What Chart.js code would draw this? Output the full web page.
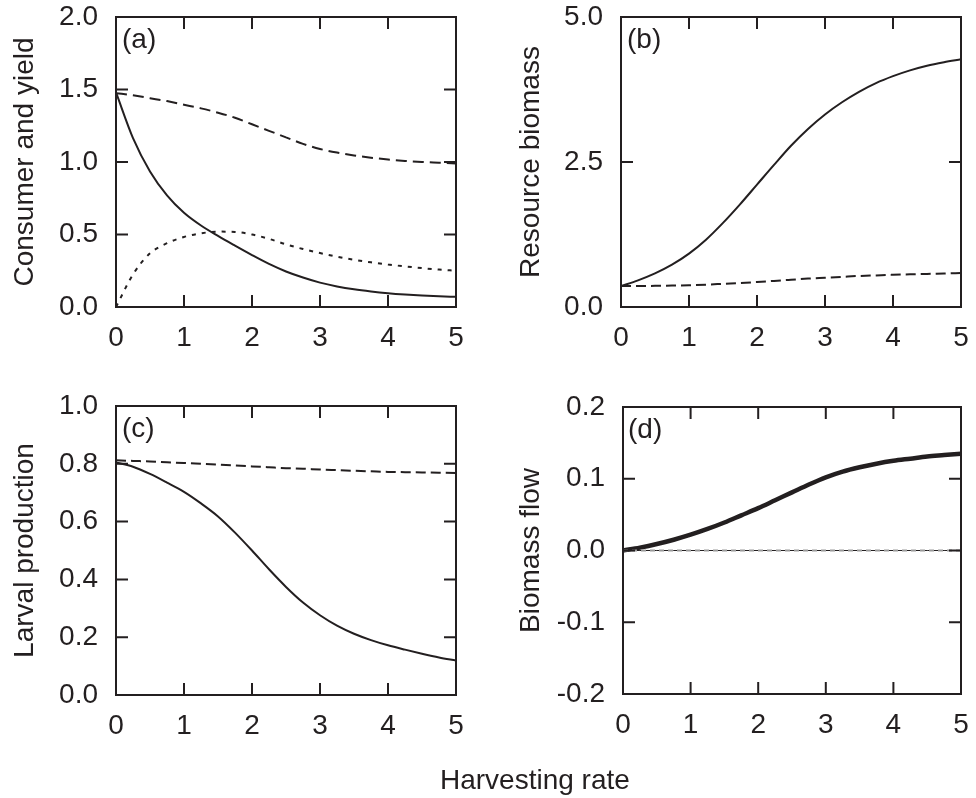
<!DOCTYPE html>
<html><head><meta charset="utf-8">
<script src="https://cdn.jsdelivr.net/npm/chart.js@4.4.1/dist/chart.umd.min.js"></script>
<style>
body{margin:0;background:#fff;width:976px;height:798px;position:relative;overflow:hidden;font-family:"Liberation Sans",Arial,sans-serif;color:#231f20}
canvas{position:absolute}
.lbl{position:absolute;font-size:28px;line-height:1;color:#231f20;white-space:nowrap}
</style></head><body>
<canvas id="pa" width="488" height="375" style="left:0;top:0"></canvas>
<canvas id="pb" width="488" height="375" style="left:488px;top:0"></canvas>
<canvas id="pc" width="488" height="390" style="left:0;top:380px"></canvas>
<canvas id="pd" width="488" height="390" style="left:488px;top:380px"></canvas>
<div class="lbl" style="left:122px;top:25px">(a)</div>
<div class="lbl" style="left:627px;top:25px">(b)</div>
<div class="lbl" style="left:122px;top:414px">(c)</div>
<div class="lbl" style="left:628px;top:415px">(d)</div>
<div class="lbl" style="left:440px;top:766px">Harvesting rate</div>
<script>
// ---- data ----
const harvestRate = [0,0.25,0.5,0.75,1,1.25,1.5,1.75,2,2.25,2.5,2.75,3,3.25,3.5,3.75,4,4.25,4.5,4.75,5];
const xTicks = [0,1,2,3,4,5];

// (a) Consumer and yield
const consumerSolidA = [1.48,1.165,0.935,0.77,0.65,0.562,0.49,0.423,0.358,0.297,0.245,0.203,0.168,0.142,0.122,0.107,0.095,0.086,0.079,0.074,0.07];
const consumerDashedA = [1.475,1.46,1.44,1.42,1.395,1.37,1.34,1.305,1.26,1.215,1.17,1.125,1.09,1.065,1.045,1.03,1.017,1.007,1.0,0.995,0.99];
const yieldDottedA = [0.0,0.225,0.37,0.44,0.483,0.508,0.52,0.518,0.5,0.47,0.432,0.4,0.372,0.347,0.326,0.308,0.293,0.28,0.268,0.258,0.25];
const yTicksA = [0,0.5,1,1.5,2];

// (b) Resource biomass
const resourceSolidB = [0.36,0.46,0.58,0.73,0.92,1.16,1.45,1.77,2.11,2.45,2.78,3.07,3.32,3.53,3.71,3.86,3.98,4.08,4.16,4.22,4.27];
const resourceDashedB = [0.36,0.362,0.365,0.37,0.375,0.385,0.4,0.415,0.43,0.45,0.47,0.49,0.505,0.52,0.535,0.545,0.555,0.563,0.57,0.578,0.585];
const yTicksB = [0,2.5,5];

// (c) Larval production
const larvalSolidC = [0.805,0.79,0.765,0.735,0.703,0.663,0.618,0.562,0.5,0.435,0.374,0.32,0.276,0.24,0.212,0.19,0.172,0.157,0.143,0.13,0.119];
const larvalDashedC = [0.812,0.81,0.808,0.805,0.803,0.8,0.797,0.794,0.791,0.788,0.785,0.783,0.78,0.778,0.776,0.774,0.772,0.771,0.77,0.769,0.768];
const yTicksC = [0,0.2,0.4,0.6,0.8,1];

// (d) Biomass flow
const flowSolidD = [0,0.004,0.009,0.015,0.022,0.03,0.039,0.049,0.059,0.07,0.081,0.092,0.102,0.11,0.116,0.121,0.125,0.128,0.131,0.133,0.135];
const flowZeroD = [0,0,0,0,0,0,0,0,0,0,0,0,0,0,0,0,0,0,0,0,0];
const yTicksD = [-0.2,-0.1,0,0.1,0.2];

// ---- drawing ----
const INK = '#231f20';
const FONT = {family:'"Liberation Sans", Arial, sans-serif', size:28};

const frame = {
  id:'frame',
  afterDatasetsDraw(chart){
    const {ctx, chartArea:a, scales:{x,y}} = chart;
    ctx.save();
    ctx.strokeStyle = INK; ctx.lineWidth = 2;
    ctx.strokeRect(a.left, a.top, a.right-a.left, a.bottom-a.top);
    const L = 12;
    ctx.beginPath();
    x.ticks.forEach(t=>{const p=x.getPixelForValue(t.value);
      ctx.moveTo(p,a.bottom); ctx.lineTo(p,a.bottom-L); ctx.moveTo(p,a.top); ctx.lineTo(p,a.top+L);});
    y.ticks.forEach(t=>{const p=y.getPixelForValue(t.value);
      ctx.moveTo(a.left,p); ctx.lineTo(a.left+L,p); ctx.moveTo(a.right,p); ctx.lineTo(a.right-L,p);});
    ctx.stroke(); ctx.restore();
  }
};

function pts(ys){ return ys.map((v,i)=>({x:harvestRate[i], y:v})); }
function ds(ys, o){ return Object.assign({data:pts(ys), borderColor:INK, borderWidth:2, pointRadius:0, fill:false, tension:0.4, cubicInterpolationMode:'monotone'}, o||{}); }

function panel(id, o){
  const cv = document.getElementById(id);
  const W = cv.width, H = cv.height;
  return new Chart(cv, {
    type:'line',
    data:{datasets:o.datasets},
    options:{
      responsive:false, animation:false, devicePixelRatio:1,
      layout:{padding:{left:0, top:o.top, right:W-o.right, bottom:0}},
      plugins:{legend:{display:false}, tooltip:{enabled:false}},
      scales:{
        x:{type:'linear', min:0, max:5,
          afterBuildTicks:s=>{s.ticks = xTicks.map(v=>({value:v}));},
          afterFit:s=>{s.height = H - o.bottom; s.paddingLeft=0; s.paddingRight=0;},
          grid:{display:false, drawTicks:false}, border:{display:false},
          ticks:{color:INK, font:FONT, padding:14, maxRotation:0, callback:v=>String(v)}},
        y:{type:'linear', min:o.yTicks[0], max:o.yTicks[o.yTicks.length-1],
          afterBuildTicks:s=>{s.ticks = o.yTicks.map(v=>({value:v}));},
          afterFit:s=>{s.width = o.left; s.paddingTop=0; s.paddingBottom=0;},
          grid:{display:false, drawTicks:false}, border:{display:false},
          ticks:{color:INK, font:FONT, padding:18, callback:v=>(Math.abs(v)<1e-9?0:v).toFixed(1)},
          title:{display:true, text:o.yTitle, color:INK, font:FONT, padding:{top:o.titlePad, bottom:0}}}
      }
    },
    plugins:[frame]
  });
}

panel('pa', {left:116, top:17, right:456, bottom:307, yTicks:yTicksA, yTitle:'Consumer and yield', titlePad:8,
  datasets:[
    ds(consumerDashedA, {borderDash:[11,6]}),
    ds(yieldDottedA, {borderDash:[4,6]}),
    ds(consumerSolidA)
  ]});
panel('pb', {left:133, top:17, right:473, bottom:307, yTicks:yTicksB, yTitle:'Resource biomass', titlePad:26,
  datasets:[
    ds(resourceDashedB, {borderDash:[10,5]}),
    ds(resourceSolidB)
  ]});
panel('pc', {left:116, top:26, right:456, bottom:315, yTicks:yTicksC, yTitle:'Larval production', titlePad:8,
  datasets:[
    ds(larvalDashedC, {borderDash:[10,5]}),
    ds(larvalSolidC)
  ]});
panel('pd', {left:135, top:27, right:473, bottom:314, yTicks:yTicksD, yTitle:'Biomass flow', titlePad:26,
  datasets:[
    ds(flowZeroD, {borderColor:'#9a9a9a', borderWidth:2, borderDash:[5,4]}),
    ds(flowZeroD, {borderWidth:1}),
    ds(flowSolidD, {borderWidth:4.5})
  ]});
</script>
</body></html>
